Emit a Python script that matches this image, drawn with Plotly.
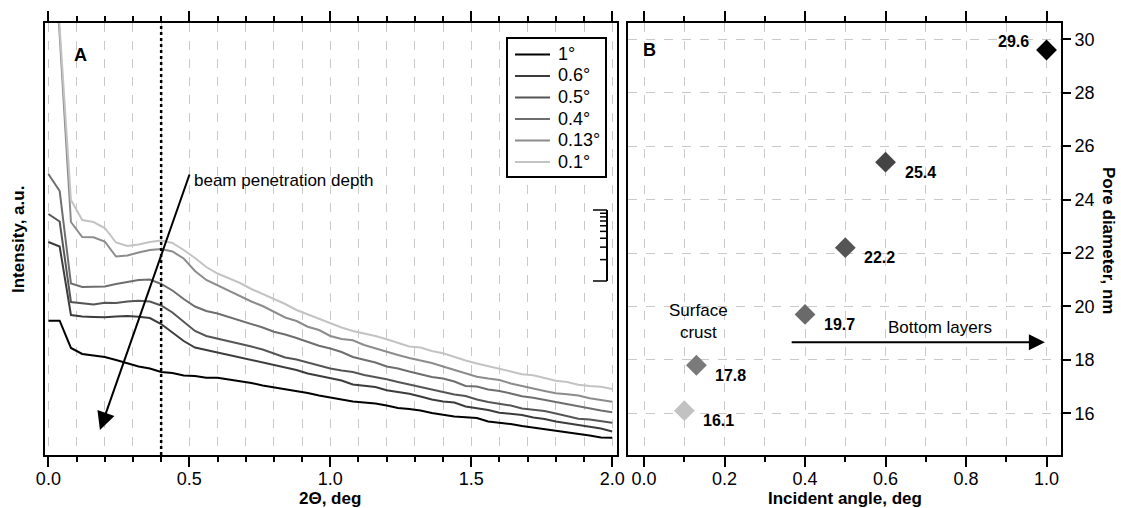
import math
import plotly.graph_objects as go

# ---------------- data ----------------
two_theta = [0.00, 0.04, 0.08, 0.12, 0.16, 0.20, 0.24, 0.28, 0.32, 0.36,
             0.40, 0.44, 0.48, 0.52, 0.56, 0.60, 0.64, 0.68, 0.72, 0.76,
             0.80, 0.84, 0.88, 0.92, 0.96, 1.00, 1.04, 1.08, 1.12, 1.16,
             1.20, 1.24, 1.28, 1.32, 1.36, 1.40, 1.44, 1.48, 1.52, 1.56,
             1.60, 1.64, 1.68, 1.72, 1.76, 1.80, 1.84, 1.88, 1.92, 1.96, 2.00]

series_labels = ["1°", "0.6°", "0.5°", "0.4°", "0.13°", "0.1°"]

I_1deg = [134.3, 134.3, 107, 101, 99.5, 98, 95, 92, 88.5, 86.5,
          83, 82, 79.5, 79, 77.3, 77.3, 75.5, 74, 72, 69.5,
          67.7, 66, 64.5, 62, 59.5, 57.5, 55.5, 53.5, 52.5, 51.5,
          49.5, 47, 46, 44.5, 42, 40, 38.5, 37.7, 37, 33.5,
          32.5, 31, 29, 27.5, 26, 24.5, 23, 21, 19.5, 17.5, 17.3]
I_06deg = [213, 208.5, 140, 138.5, 138, 137.7, 138.5, 139, 138.3, 137,
           131, 122.5, 114, 107.5, 105, 102, 99.5, 97.5, 95, 92.5,
           90, 87.5, 85, 81.5, 79, 76.5, 74.5, 70.5, 69, 68,
           64.7, 63, 61.3, 58.5, 55.5, 53.5, 52.5, 48.5, 47, 45,
           42.3, 41.5, 40, 37.5, 36, 33.5, 32, 30.5, 28.3, 26.5, 23.5]
I_05deg = [241, 233.5, 153, 152, 150.5, 152.3, 152, 153.5, 154.3, 153.5,
           149.5, 142.5, 133.5, 124, 119, 116.5, 114, 111.5, 108.5, 105.5,
           101.5, 97.5, 95.5, 92.5, 89.5, 86.5, 84.5, 83, 80, 78,
           75.7, 73, 70.5, 67.5, 65, 62.5, 60.5, 59, 55.5, 53,
           51.5, 49.5, 46.5, 45.2, 44, 41.5, 38.5, 36.2, 35.5, 34, 32.3]
I_04deg = [281, 264, 171.5, 168, 168.3, 168.5, 171, 173, 175, 175.5,
           171, 164.5, 156, 148.5, 144, 141.5, 138, 134.5, 130.5, 127.5,
           123.2, 120.5, 117, 113, 109.2, 106.5, 103, 98, 95.5, 92.5,
           88.5, 86.5, 83.5, 80.5, 78, 76.5, 73.5, 69, 68.5, 65.5,
           64, 61.5, 58.8, 57.2, 55, 53.2, 50.5, 48.5, 46.7, 44.5, 42.7]
I_013deg = [590, 420, 233, 218, 217.7, 213.5, 198.5, 199.5, 202.5, 205,
            206, 203.5, 196.5, 184, 175, 169.5, 164, 158.3, 153.5, 149,
            143.5, 137.5, 134, 128.3, 125, 119, 116, 114.7, 110, 106.5,
            103.3, 100, 97, 94.5, 92, 88.5, 85, 82, 78.3, 76.5,
            75, 71.5, 68.7, 66.5, 64, 61.7, 60.7, 59.5, 56.7, 55, 53.3]
I_01deg = [600, 425, 255, 235, 233, 227, 212.5, 209, 210.5, 213,
           214.5, 212, 205, 197, 188, 181.5, 177, 172, 166, 161,
           156.5, 151, 145, 140.5, 136.5, 131.5, 127.5, 124, 121.5, 119,
           115.7, 112, 108.5, 107.5, 104, 101.7, 98, 94.5, 91.5, 89,
           86.7, 83.5, 80.8, 79.7, 77, 74.2, 73, 70.2, 69, 68.2, 66]

incident_angle = [0.1, 0.13, 0.4, 0.5, 0.6, 1.0]
pore_diameter = [16.1, 17.8, 19.7, 22.2, 25.4, 29.6]
pore_labels = ["16.1", "17.8", "19.7", "22.2", "25.4", "29.6"]

# ---------------- styles ----------------
W, H = 1121, 508
FONT = "Liberation Sans, Arial, sans-serif"
GRID = "#c9c9c9"
line_colors = ["#000000", "#3c3c3c", "#555555", "#6e6e6e", "#8c8c8c", "#c3c3c3"]
marker_colors = ["#c2c2c2", "#7a7a7a", "#6a6a6a", "#555555", "#444444", "#000000"]

curves = [I_1deg, I_06deg, I_05deg, I_04deg, I_013deg, I_01deg]

fig = go.Figure()
for name, ys, col in zip(series_labels, curves, line_colors):
    fig.add_trace(go.Scatter(x=two_theta, y=ys, mode="lines", name=name,
                             line=dict(color=col, width=2), showlegend=False,
                             xaxis="x", yaxis="y"))

fig.add_trace(go.Scatter(x=incident_angle, y=pore_diameter, mode="markers",
                         marker=dict(symbol="diamond", size=16, color=marker_colors,
                                     line=dict(width=0)),
                         xaxis="x2", yaxis="y2", showlegend=False))


def px(x):
    return x / W


def py(y):
    return 1 - y / H


ydom = [py(455), py(23)]

common_axis = dict(showline=True, linewidth=2, linecolor="black", zeroline=False,
                   tickcolor="black", tickwidth=2, automargin=False,
                   tickfont=dict(size=18, family=FONT, color="black"))


def paper_text(text, x, y, size=17, angle=0, xanchor="center"):
    return dict(text=text, x=px(x), y=py(y), xref="paper", yref="paper",
                xanchor=xanchor, yanchor="middle", textangle=angle,
                showarrow=False, font=dict(size=size))


annotations = []
shapes = []

# axis titles
annotations.append(paper_text("<b>Intensity, a.u.</b>", 18, 240, angle=-90))
annotations.append(paper_text("<b>2Θ, deg</b>", 330, 498))
annotations.append(paper_text("<b>Incident angle, deg</b>", 845, 498))
annotations.append(paper_text("<b>Pore diameter, nm</b>", 1109, 240, angle=90))
# panel letters
annotations.append(paper_text("<b>A</b>", 80, 55, size=18))
annotations.append(paper_text("<b>B</b>", 649, 50, size=18))

# beam penetration arrow
annotations.append(dict(text="", x=0.183, y=25, xref="x", yref="y",
                        ax=0.5025, ay=282, axref="x", ayref="y",
                        showarrow=True, arrowhead=2, arrowsize=1.8, arrowwidth=2, arrowcolor="black"))
annotations.append(dict(text="beam penetration depth", x=0.51, y=275, xref="x", yref="y",
                        xanchor="left", yanchor="middle", showarrow=False, font=dict(size=17)))
# right panel texts
annotations.append(dict(text="Surface<br>crust", x=0.135, y=30 - (321 - 39.3) / 26.7, xref="x2", yref="y2",
                        xanchor="center", yanchor="middle", showarrow=False, font=dict(size=17)))
annotations.append(dict(text="Bottom layers", x=0.60, y=30 - (327 - 39.3) / 26.7, xref="x2", yref="y2",
                        xanchor="left", yanchor="middle", showarrow=False, font=dict(size=17)))
annotations.append(dict(text="", x=0.996, y=18.66, xref="x2", yref="y2",
                        ax=0.363, ay=18.66, axref="x2", ayref="y2",
                        showarrow=True, arrowhead=2, arrowsize=1.6, arrowwidth=2, arrowcolor="black"))
# point labels
for a, d, lab in zip(incident_angle, pore_diameter, pore_labels):
    if lab == "29.6":
        annotations.append(dict(text=f"<b>{lab}</b>", x=a, y=d, xref="x2", yref="y2",
                                xanchor="right", yanchor="middle", xshift=-16, yshift=8,
                                showarrow=False, font=dict(size=16)))
    else:
        annotations.append(dict(text=f"<b>{lab}</b>", x=a, y=d, xref="x2", yref="y2",
                                xanchor="left", yanchor="middle", xshift=17, yshift=-10,
                                showarrow=False, font=dict(size=16)))

# legend (box, line samples, labels)
shapes.append(dict(type="rect", xref="paper", yref="paper", x0=px(507), x1=px(606),
                   y0=py(177), y1=py(38), line=dict(color="black", width=2),
                   fillcolor="white", layer="above"))
for i, (name, col) in enumerate(zip(series_labels, line_colors)):
    yy = 54.5 + 21.5 * i
    shapes.append(dict(type="line", xref="paper", yref="paper", x0=px(515), x1=px(550),
                       y0=py(yy), y1=py(yy), line=dict(color=col, width=2), layer="above"))
    annotations.append(paper_text(name, 556, yy - 0.5, size=18, xanchor="left"))

# dotted marker line at 0.4 deg
shapes.append(dict(type="line", xref="x", yref="y domain", x0=0.4, x1=0.4, y0=0, y1=1,
                   line=dict(color="black", width=2.5, dash="dot")))
# log-decade scale bar (decoration)
bx, btop, bbot = 607, 210, 281
shapes.append(dict(type="line", xref="paper", yref="paper", x0=px(bx), x1=px(bx),
                   y0=py(btop), y1=py(bbot), line=dict(color="black", width=2)))
for k in range(1, 11):
    yy = bbot - (bbot - btop) * math.log10(k)
    left = 593 if k in (1, 10) else 600
    shapes.append(dict(type="line", xref="paper", yref="paper", x0=px(left), x1=px(bx),
                       y0=py(yy), y1=py(yy), line=dict(color="black", width=1.5)))

fig.update_layout(
    template="none",
    width=W, height=H, autosize=False,
    margin=dict(l=0, r=0, t=0, b=0, pad=0, autoexpand=False),
    paper_bgcolor="white", plot_bgcolor="white",
    font=dict(family=FONT, size=17, color="black"),
    showlegend=False,
    xaxis=dict(domain=[px(45), px(617)], range=[-0.012, 2.017], anchor="y",
               tick0=0, dtick=0.5, tickformat=".1f", ticks="outside", ticklen=10,
               ticklabelstandoff=-4,
               mirror="ticks", showgrid=True, gridcolor=GRID, griddash="dash", gridwidth=1,
               minor=dict(tick0=0, dtick=0.1, ticks="outside", ticklen=5, tickwidth=2,
                          tickcolor="black", showgrid=True, gridcolor=GRID, griddash="dash"),
               **common_axis),
    yaxis=dict(domain=ydom, range=[0, 432], anchor="x", showticklabels=False, ticks="",
               mirror=True, showgrid=False, **common_axis),
    xaxis2=dict(domain=[px(628), px(1061)], range=[-0.04, 1.036], anchor="y2",
                tick0=0, dtick=0.2, tickformat=".1f", ticks="outside", ticklen=10,
                ticklabelstandoff=-4,
                mirror="ticks", showgrid=True, gridcolor=GRID, griddash="dash", gridwidth=1,
                minor=dict(tick0=0, dtick=0.1, ticks="outside", ticklen=5, tickwidth=2,
                           tickcolor="black", showgrid=True, gridcolor=GRID, griddash="dash"),
                **common_axis),
    yaxis2=dict(domain=ydom, range=[14.44, 30.61], anchor="x2", side="right",
                tick0=0, dtick=2, ticks="outside", ticklen=8, mirror=True,
                showgrid=True, gridcolor=GRID, griddash="dash", gridwidth=1,
                **common_axis),
    annotations=annotations,
    shapes=shapes,
)

fig.write_html("out.html")
